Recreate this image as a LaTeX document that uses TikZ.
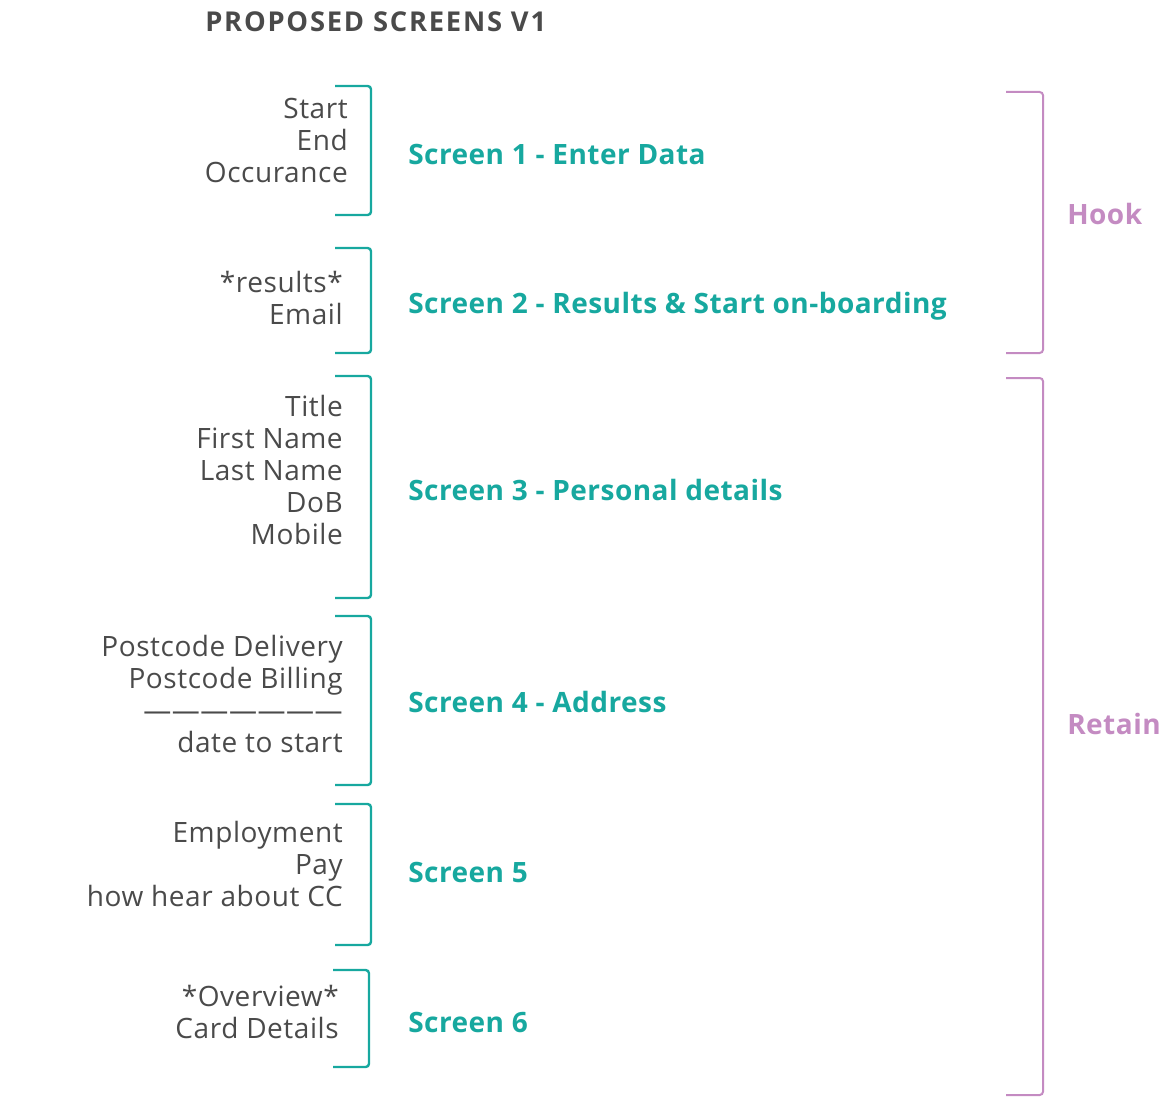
\documentclass[tikz,border=0pt]{standalone}
\usepackage{fontspec}
\setmainfont{Open Sans}
\newfontfamily\fieldfont[LetterSpace=2]{Open Sans}
\newfontfamily\scrfont[LetterSpace=1.7]{Open Sans}
\newfontfamily\titlefont[LetterSpace=6.5]{Open Sans}
\definecolor{teal1}{HTML}{17A89F}
\definecolor{purp}{HTML}{C48BC2}
\definecolor{txt}{HTML}{4A4A4A}
\begin{document}
\begin{tikzpicture}[x=0.75pt,y=-0.75pt,
  field/.style={anchor=east,align=right,text=txt,inner sep=0pt,font=\fieldfont\fontsize{21}{24}\selectfont},
  screen/.style={anchor=west,text=teal1,inner sep=0pt,font=\scrfont\fontsize{21}{24}\selectfont\bfseries},
  phase/.style={anchor=west,text=purp,inner sep=0pt,font=\scrfont\fontsize{21}{24}\selectfont\bfseries},
  tbr/.style={draw=teal1,line width=1.8pt,rounded corners=2.5pt},
  pbr/.style={draw=purp,line width=1.5pt,rounded corners=2.5pt}]
\useasboundingbox (0,0) rectangle (1162,1098);
\node[anchor=west,text=txt,inner sep=0pt,font=\titlefont\fontsize{20.5}{24}\selectfont\bfseries] (title) at (205,22) {PROPOSED SCREENS V1};
% teal brackets
\draw[tbr] (335,86) -- (371,86) -- (371,215) -- (335,215);
\draw[tbr] (335,248) -- (371,248) -- (371,353) -- (335,353);
\draw[tbr] (335,376) -- (371,376) -- (371,598) -- (335,598);
\draw[tbr] (335,616) -- (371,616) -- (371,785) -- (335,785);
\draw[tbr] (335,804) -- (371,804) -- (371,945) -- (335,945);
\draw[tbr] (333,970) -- (369,970) -- (369,1067) -- (333,1067);
% purple brackets
\draw[pbr] (1006,92) -- (1043,92) -- (1043,353) -- (1006,353);
\draw[pbr] (1006,378) -- (1043,378) -- (1043,1095) -- (1006,1095);
% fields
\node[field] (f1) at (348,140) {Start\\End\\Occurance};
\node[field] (f2) at (343,298) {*results*\\Email};
\node[field] (f3) at (343,470) {Title\\First Name\\Last Name\\DoB\\Mobile};
\node[field] (f4) at (343,694) {Postcode Delivery\\Postcode Billing\\———————\\date to start};
\node[field] (f5) at (343,864) {Employment\\Pay\\how hear about CC};
\node[field] (f6) at (339,1012) {*Overview*\\Card Details};
% screens
\node[screen] (s1) at (408,154) {Screen 1 - Enter Data};
\node[screen] (s2) at (408,306) {Screen 2 - Results \& Start on-boarding};
\node[screen] (s3) at (408,490) {Screen 3 - Personal details};
\node[screen] (s4) at (408,702) {Screen 4 - Address};
\node[screen] (s5) at (408,872) {Screen 5};
\node[screen] (s6) at (408,1022) {Screen 6};
% phases
\node[phase] (hook) at (1067,214) {Hook};
\node[phase] (retain) at (1067,724) {Retain};
\end{tikzpicture}
\end{document}
